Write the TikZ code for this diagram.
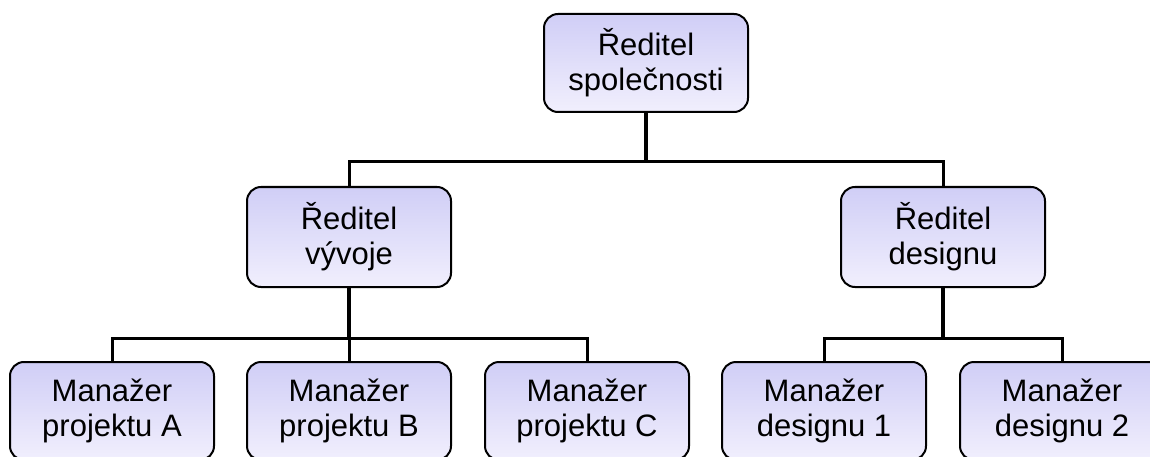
\documentclass[tikz,border=0pt]{standalone}
\usepackage{fontspec}
\setmainfont{Liberation Sans}
\definecolor{boxtop}{RGB}{208,206,246}
\definecolor{boxbot}{RGB}{241,239,253}
\begin{document}
\begin{tikzpicture}[x=1pt,y=-1pt,
  orgbox/.style={draw=black, line width=2pt, rounded corners=14pt,
    top color=boxtop, bottom color=boxbot, minimum width=204pt,
    minimum height=98pt, align=center, inner sep=0pt,
    font=\fontsize{31}{35}\selectfont},
  edge/.style={draw=black, line width=3.5pt}]
\clip (0,0) rectangle (1150,457);
\useasboundingbox (0,0) rectangle (1150,457);
\node[orgbox] (ceo) at (646,63) {Ředitel\\společnosti};
\node[orgbox, minimum height=100pt] (dev) at (349,237) {Ředitel\\vývoje};
\node[orgbox, minimum height=100pt] (des) at (943,237) {Ředitel\\designu};
\node[orgbox] (pa) at (112,411) {Manažer\\projektu A};
\node[orgbox] (pb) at (349,411) {Manažer\\projektu B};
\node[orgbox] (pc) at (587,411) {Manažer\\projektu C};
\node[orgbox] (d1) at (824,411) {Manažer\\designu 1};
\node[orgbox] (d2) at (1062,411) {Manažer\\designu 2};
\coordinate (j1) at (646,162);
\coordinate (j2) at (349,338);
\coordinate (j3) at (943,338);
\draw[edge] (ceo.south) -- (j1);
\draw[edge, line width=3pt] (j1) -| (dev.north);
\draw[edge, line width=3pt] (j1) -| (des.north);
\draw[edge] (dev.south) -- (j2);
\draw[edge, line width=3pt] (j2) -| (pa.north);
\draw[edge, line width=3pt] (j2) -- (pb.north);
\draw[edge, line width=3pt] (j2) -| (pc.north);
\draw[edge] (des.south) -- (j3);
\draw[edge, line width=3pt] (j3) -| (d1.north);
\draw[edge, line width=3pt] (j3) -| (d2.north);
\end{tikzpicture}
\end{document}
